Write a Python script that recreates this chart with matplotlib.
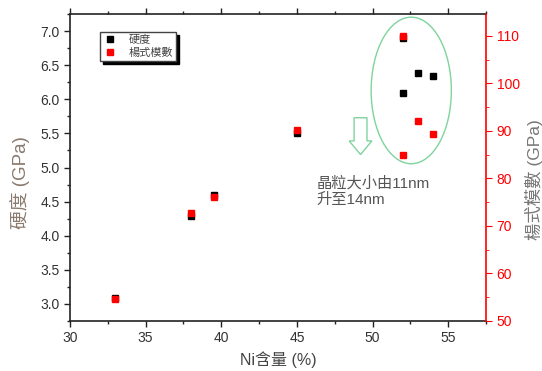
import matplotlib
matplotlib.use("Agg")
import matplotlib.pyplot as plt
from matplotlib.patches import Ellipse, FancyArrow
from matplotlib.ticker import MultipleLocator

plt.rcParams['font.family'] = ['Liberation Sans', 'Noto Sans CJK TC', 'DejaVu Sans']

# data
ni_content = [33, 38, 39.5, 45, 52, 52, 53, 54]
hardness = [3.09, 4.29, 4.59, 5.50, 6.90, 6.09, 6.39, 6.34]
modulus = [54.6, 72.7, 76.0, 90.2, 110.0, 84.9, 92.0, 89.3]

fig = plt.figure(figsize=(5.42, 3.71), dpi=100)
ax = fig.add_axes([0.129, 0.135, 0.768, 0.827])
ax2 = ax.twinx()

txt = '#333333'
red = '#ff0000'

ax.plot(ni_content, hardness, 's', color='black', ms=4.5, label='硬度', zorder=3)
ax2.plot(ni_content, modulus, 's', color=red, ms=4.5, label='楊式模數', zorder=3)

ax.set_xlim(30, 57.5)
ax.set_ylim(2.75, 7.25)
ax2.set_ylim(50, 114.6)

ax.xaxis.set_major_locator(MultipleLocator(5))
ax.xaxis.set_minor_locator(MultipleLocator(2.5))
ax.yaxis.set_major_locator(MultipleLocator(0.5))
ax.yaxis.set_minor_locator(MultipleLocator(0.25))
ax2.yaxis.set_major_locator(MultipleLocator(10))
ax2.yaxis.set_minor_locator(MultipleLocator(5))

ax.tick_params(axis='both', which='both', direction='out', colors='#222222',
               labelcolor=txt, labelsize=10, width=1)
ax.tick_params(axis='x', which='both', top=True, labeltop=False)
ax.tick_params(which='major', length=4)
ax.tick_params(which='minor', length=2.5)
for s in ['left', 'bottom', 'top']:
    ax.spines[s].set_linewidth(1.2)
    ax.spines[s].set_color('#222222')
ax.spines['right'].set_visible(False)

ax2.spines['right'].set_color(red)
ax2.spines['right'].set_linewidth(1.2)
for s in ['left', 'bottom', 'top']:
    ax2.spines[s].set_visible(False)
ax2.tick_params(axis='y', which='both', direction='out', colors=red,
                labelcolor=red, labelsize=10)
ax2.tick_params(which='major', length=4)
ax2.tick_params(which='minor', length=2.5)

ax.set_xlabel('Ni含量 (%)', color='#444444', fontsize=11.5)
ax.set_ylabel('硬度 (GPa)', color='#8a7a6e', fontsize=13.5)
ax.yaxis.set_label_coords(-0.095, 0.45)
ax2.set_ylabel('楊式模數 (GPa)', color='#777777', fontsize=12.5)
ax2.yaxis.set_label_coords(1.094, 0.462)

# highlight of the larger grains
ell = Ellipse((52.55, 6.13), 5.3, 2.15, fill=False, edgecolor='#7fd39c', lw=1)
ax.add_patch(ell)
arrow = FancyArrow(49.2, 5.73, 0, -0.54, width=0.85, head_width=1.5,
                   head_length=0.2, length_includes_head=True,
                   facecolor='white', edgecolor='#7fd39c', lw=1)
ax.add_patch(arrow)
ax.text(46.3, 4.87, '晶粒大小由11nm\n升至14nm', color='#555555', fontsize=11,
        va='top', ha='left', linespacing=1.15)

leg = ax.legend(handles=[ax.lines[0], ax2.lines[0]], loc='upper left',
                bbox_to_anchor=(0.06, 0.96), fontsize=8, frameon=True,
                fancybox=False, shadow={'color': 'black', 'alpha': 1},
                edgecolor='#444444', handlelength=1.2, borderpad=0.3,
                labelspacing=0.2, handletextpad=1.0)
for t in leg.get_texts():
    t.set_color('#444444')

fig.savefig('out.png', dpi=100)
